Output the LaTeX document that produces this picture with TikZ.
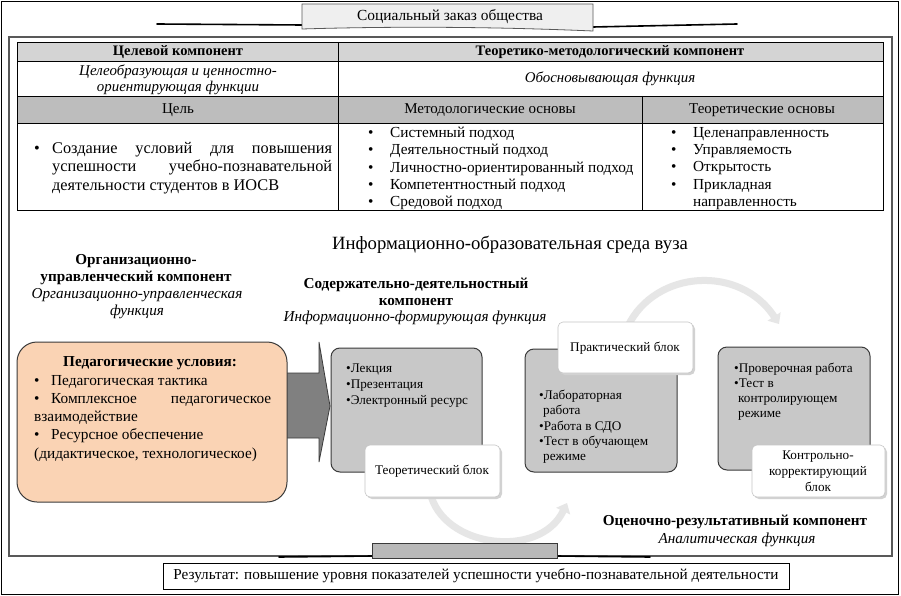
\documentclass[tikz,border=0pt]{standalone}
\usepackage{fontspec}
\setmainfont{Liberation Serif}
\usetikzlibrary{arrows.meta}
\definecolor{peach}{HTML}{FAD3B4}
\definecolor{hdrA}{HTML}{D4D4D4}
\definecolor{hdrB}{HTML}{BDBDBD}
\definecolor{boxgray}{HTML}{C8C8C8}
\definecolor{tabgray}{HTML}{EFEFEF}
\definecolor{arrgray}{HTML}{808080}
\definecolor{arcgray}{HTML}{E6E6E6}
\definecolor{edgegray}{HTML}{3A3A3A}
\tikzset{
  txt/.style={inner sep=0pt, align=center, font=\fontsize{15}{17}\selectfont},
  hdr/.style={txt, font=\fontsize{14.5}{17}\selectfont\bfseries},
  ttl/.style={txt, font=\fontsize{15.2}{17}\selectfont\bfseries},
  itx/.style={txt, font=\fontsize{15.2}{17}\selectfont\itshape},
  lst/.style={inner sep=0pt, align=left, anchor=north west, font=\fontsize{15.3}{17.3}\selectfont},
  grayblock/.style={draw=edgegray, line width=1pt, fill=boxgray, rounded corners=9pt},
  whiteblock/.style={draw=gray!45, line width=0.6pt, fill=white, rounded corners=5pt},
  shadowblock/.style={fill=gray!35, rounded corners=5pt},
  small/.style={inner sep=0pt, align=left, anchor=north west, font=\fontsize{13.2}{16}\selectfont},
  arcarrow/.style={line width=7pt, color=arcgray, -{Triangle[width=15pt,length=9pt]}},
}
\newcommand{\bl}{\makebox[22pt][l]{•}}
\begin{document}
\begin{tikzpicture}[x=1pt,y=-1pt]
\useasboundingbox (0,0) rectangle (901,596);
\fill[white] (0,0) rectangle (901,596);
% outer frame
\draw[line width=1.6pt] (1.5,1.5) rectangle (898.5,594.5);
% inner frame
\draw[line width=1.3pt, draw=gray!70!black] (9,37) rectangle (892,556);

% top tab
\draw[line width=1.6pt, line cap=round] (157,24) -- (302,25);
\draw[line width=1.6pt, line cap=round] (593,27) -- (737,24);
\draw[fill=tabgray, draw=gray!70!black, line width=0.8pt] (302,29) -- (302,4) -- (593,4) -- (593,31) .. controls (500,27) and (400,26) .. (302,29) -- cycle;
\node[txt, font=\fontsize{15.4}{17}\selectfont] (social) at (450,17) {Социальный заказ общества};

% table
\fill[hdrA] (17,42) rectangle (883,61);
\fill[hdrB] (17,96) rectangle (883,123);
\draw[line width=0.8pt] (17,42) rectangle (883,210);
\draw[line width=0.6pt] (17,61) -- (883,61);
\draw[line width=0.6pt] (17,96) -- (883,96);
\draw[line width=0.6pt] (17,123) -- (883,123);
\draw[line width=0.6pt] (338,42) -- (338,210);
\draw[line width=0.6pt] (642,96) -- (642,210);

\node[hdr] (h1) at (178,52) {Целевой компонент};
\node[hdr] (h2) at (610,52) {Теоретико-методологический компонент};
\node[itx, font=\fontsize{14.9}{16.5}\selectfont\itshape] (f1) at (178,80) {Целеобразующая и ценностно-\\ориентирующая функции};
\node[itx, font=\fontsize{14.9}{16.5}\selectfont\itshape] (f2) at (610,79) {Обосновывающая функция};
\node[txt] (c1) at (178,110) {Цель};
\node[txt] (c2) at (490,110) {Методологические основы};
\node[txt] (c3) at (762,110) {Теоретические основы};

\node[inner sep=0pt, anchor=north west, font=\fontsize{16.3}{18.5}\selectfont] (goal) at (34,142)
  {\parbox{298pt}{\hangindent=18pt\hangafter=1\makebox[18pt][l]{•}Создание условий для повышения успешности учебно-познавательной деятельности студентов в ИОСВ}};
\node[lst] (meth) at (368,127) {\bl Системный подход\\\bl Деятельностный подход\\\bl Личностно-ориентированный подход\\\bl Компетентностный подход\\\bl Средовой подход};
\node[lst] (theo) at (671,127) {\bl Целенаправленность\\\bl Управляемость\\\bl Открытость\\\bl Прикладная\\\hspace*{22pt}направленность};

% middle title
\node[txt, font=\fontsize{18.7}{21}\selectfont] (env) at (510,245) {Информационно-образовательная среда вуза};

\node[ttl] (org) at (136,270) {Организационно-\\управленческий компонент};
\node[itx] (orgf) at (137,304) {Организационно-управленческая\\функция};
\node[ttl] (cont) at (416,292) {Содержательно-деятельностный\\компонент};
\node[itx] (contf) at (415,318) {Информационно-формирующая функция};

% big arrow
\draw[fill=arrgray, draw=edgegray, line width=0.8pt] (280,373) -- (319,373) -- (319,342) -- (330,406) -- (319,462) -- (319,438) -- (280,438) -- cycle;
% peach box
\draw[fill=peach, draw=edgegray, line width=1pt, rounded corners=20pt] (17,342) rectangle (287,502);
\node[ttl] (pedt) at (150,363) {Педагогические условия:};
\node[inner sep=0pt, anchor=north west, font=\fontsize{15.3}{18.2}\selectfont] (ped) at (34,375)
  {\parbox{237pt}{\makebox[17pt][l]{•}Педагогическая тактика\\
  \makebox[17pt][l]{•}Комплексное\hfill педагогическое\\
  взаимодействие\\
  \makebox[17pt][l]{•}Ресурсное обеспечение\\
  (дидактическое, технологическое)}};

% arcs
\draw[arcarrow] (430,492) .. controls (442,548) and (540,560) .. (567,503);
\draw[arcarrow] (628,326) .. controls (655,270) and (740,264) .. (779,324);

% gray blocks
\draw[grayblock] (331,348) rectangle (482,472);
\node[small] (b1) at (346,364) {•Лекция\\•Презентация\\•Электронный ресурс};
\draw[grayblock] (525,349) rectangle (677,472);
\node[small, font=\fontsize{13.2}{15.3}\selectfont] (b2) at (539,390) {•Лабораторная\\\hspace*{4pt}работа\\•Работа в СДО\\•Тест в обучающем\\\hspace*{4pt}режиме};
\draw[grayblock] (718,347) rectangle (870,470);
\node[small, font=\fontsize{13.2}{15}\selectfont] (b3) at (734,363) {•Проверочная работа\\•Тест в\\\hspace*{4pt}контролирующем\\\hspace*{4pt}режиме};

% white blocks
\fill[shadowblock] (367,447) rectangle (502,499);
\draw[whiteblock] (365,445) rectangle (500,497);
\node[txt, font=\fontsize{13.2}{16}\selectfont] (theob) at (432,471) {Теоретический блок};
\fill[shadowblock] (560,324) rectangle (695,375);
\draw[whiteblock] (558,322) rectangle (693,373);
\node[txt, font=\fontsize{13.2}{16}\selectfont] (pracb) at (625,348) {Практический блок};
\fill[shadowblock] (754,447) rectangle (887,499);
\draw[whiteblock] (752,445) rectangle (885,497);
\node[txt, font=\fontsize{13.2}{16}\selectfont] (ctrlb) at (818,471) {Контрольно-\\корректирующий\\блок};

\node[ttl] (eval) at (735,522) {Оценочно-результативный компонент};
\node[itx] (evalf) at (737,540) {Аналитическая функция};

% bottom tab
\draw[line width=1.6pt, line cap=round] (279,557) -- (372,556);
\draw[line width=1.6pt, line cap=round] (557,556) -- (650,557);
\draw[fill=gray!55, draw=edgegray, line width=0.8pt] (372,558) -- (372,543) -- (557,543) -- (557,558) -- cycle;

% result
\draw[line width=0.8pt, fill=white] (163,563) rectangle (789,589);
\node[txt, font=\fontsize{15.2}{17}\selectfont] (res) at (476,576) {Результат: повышение уровня показателей успешности учебно-познавательной деятельности};
\end{tikzpicture}
\end{document}
